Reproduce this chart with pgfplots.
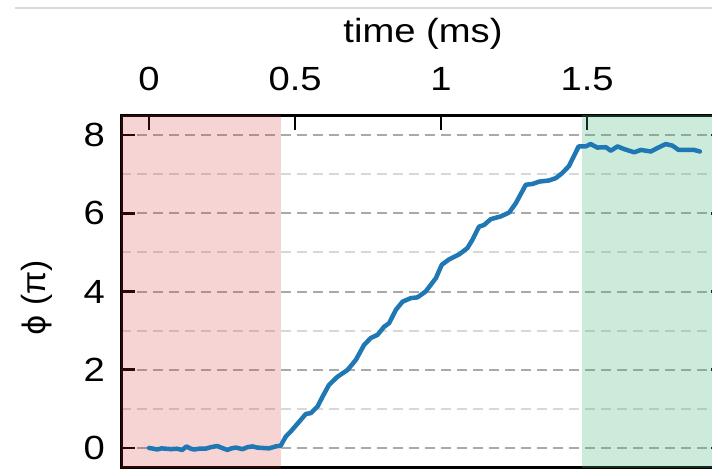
\documentclass[border=0pt]{standalone}
\usepackage{pgfplots}
\pgfplotsset{compat=1.18}
\usepackage{fontspec}
\setmainfont{Liberation Sans}[FakeStretch=1.14]
\newfontfamily\plainfont{Liberation Sans}
\newfontfamily\dvsfont{DejaVu Sans}
\definecolor{tabblue}{RGB}{31,119,180}
\definecolor{redspan}{RGB}{214,39,40}
\definecolor{greenspan}{RGB}{60,179,113}
\definecolor{gridmajor}{RGB}{170,170,170}
\definecolor{gridminor}{RGB}{216,216,216}
\definecolor{topline}{RGB}{218,218,218}
\newcommand{\bigfont}{\fontsize{33.5}{40}\selectfont}
\begin{document}
\begin{tikzpicture}
\useasboundingbox (0pt,0pt) rectangle (712pt,475pt);
\clip (0pt,0pt) rectangle (712pt,475pt);
\draw[line width=1.5pt, color=topline] (15pt,467pt) -- (712pt,467pt);
\begin{axis}[
  at={(121pt,7.5pt)}, anchor=south west,
  scale only axis, width=604pt, height=352pt,
  xmin=-0.096, xmax=1.972, ymin=-0.5, ymax=8.5,
  xtick={0,0.5,1,1.5}, xticklabels={0,0.5,1,1.5},
  ytick={0,2,4,6,8}, yticklabels={0,2,4,6,8},
  minor ytick={1,3,5,7},
  xtick pos=right, xticklabel pos=right,
  ytick pos=both, yticklabel pos=left,
  tick align=inside,
  major tick length=14pt, minor tick length=0pt,
  every tick/.style={black, line width=2.5pt},
  axis line style={line width=3pt},
  ymajorgrids, yminorgrids,
  major grid style={color=gridmajor, line width=2pt, dash pattern=on 10pt off 6pt},
  minor grid style={color=gridminor, line width=2pt, dash pattern=on 10pt off 6pt},
  /pgf/number format/assume math mode=true,
  tick label style={font=\bigfont},
  xticklabel style={anchor=base, yshift=25.5pt, inner sep=0pt},
  yticklabel style={anchor=east, xshift=-16pt, inner sep=0pt},
  every axis x label/.style={at={(axis description cs:0.5,1)}, anchor=base, yshift=73pt, inner sep=0pt, font=\bigfont},
  every axis y label/.style={at={(axis description cs:0,0.5)}, xshift=-84pt, yshift=-6.5pt, rotate=90, anchor=center, inner sep=0pt, font=\bigfont\plainfont},
  xlabel={time (ms)},
  ylabel={{\dvsfont\fontsize{31}{38}\selectfont ϕ} (π)},
]
\addplot[draw=none, fill=redspan, fill opacity=0.2] coordinates {(-0.2,-1) (0.452,-1) (0.452,10) (-0.2,10)} -- cycle;
\addplot[draw=none, fill=greenspan, fill opacity=0.26] coordinates {(1.483,-1) (2.1,-1) (2.1,10) (1.483,10)} -- cycle;
\addplot[color=tabblue, line width=4.5pt, line join=round, line cap=round] coordinates {
(0.000,0.00) (0.015,-0.02) (0.028,-0.04) (0.043,-0.01) (0.057,-0.02) (0.075,-0.03)
(0.095,-0.02) (0.114,-0.05) (0.128,0.04) (0.140,-0.01) (0.153,-0.04) (0.172,-0.02)
(0.193,-0.02) (0.212,0.02) (0.234,0.05) (0.250,0.00) (0.268,-0.05) (0.283,-0.01)
(0.297,0.01) (0.320,-0.03) (0.337,0.02) (0.354,0.04) (0.370,0.01) (0.388,0.00)
(0.411,-0.01) (0.434,0.04) (0.451,0.06)
(0.468,0.29) (0.485,0.42) (0.514,0.67) (0.537,0.87) (0.554,0.89) (0.577,1.06)
(0.594,1.31) (0.616,1.61) (0.645,1.82) (0.679,1.99) (0.708,2.25) (0.736,2.63)
(0.759,2.81) (0.782,2.89) (0.805,3.10) (0.822,3.19) (0.845,3.53) (0.868,3.74)
(0.896,3.83) (0.919,3.85) (0.947,4.00) (0.982,4.34) (1.002,4.68) (1.027,4.82)
(1.062,4.95) (1.090,5.11) (1.107,5.32) (1.130,5.66) (1.147,5.70) (1.170,5.85)
(1.204,5.92) (1.233,6.02) (1.256,6.26) (1.290,6.73) (1.313,6.75) (1.336,6.81)
(1.370,6.84) (1.393,6.90) (1.415,7.03) (1.438,7.21) (1.455,7.47) (1.471,7.71)
(1.495,7.71) (1.512,7.77) (1.535,7.68) (1.564,7.69) (1.581,7.60) (1.604,7.71)
(1.627,7.64) (1.661,7.56) (1.684,7.62) (1.718,7.58) (1.741,7.67) (1.769,7.77)
(1.792,7.73) (1.813,7.62) (1.838,7.62) (1.866,7.62) (1.886,7.58)
};
\end{axis}
\end{tikzpicture}
\end{document}
